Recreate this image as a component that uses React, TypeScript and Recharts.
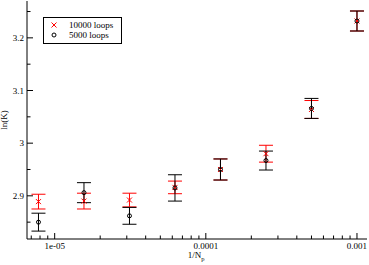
import React from "react";
import {
  ScatterChart,
  Scatter,
  XAxis,
  YAxis,
  ErrorBar,
  Legend,
} from "recharts";

// 1/N_p for N_p = 128000 ... 1000
const invNp = [7.8125e-6, 1.5625e-5, 3.125e-5, 6.25e-5, 1.25e-4, 2.5e-4, 5e-4, 1e-3];

const lnK10000 = [2.889, 2.890, 2.892, 2.916, 2.950, 2.980, 3.064, 3.232];
const err10000 = [0.014, 0.015, 0.013, 0.012, 0.020, 0.016, 0.017, 0.019];

const lnK5000 = [2.850, 2.906, 2.862, 2.915, 2.950, 2.967, 3.066, 3.232];
const err5000 = [0.017, 0.019, 0.016, 0.025, 0.020, 0.018, 0.019, 0.019];

const majorX = [1e-5, 1e-4, 1e-3];
const majorXLabels = ["1e-05", "0.0001", "0.001"];
const minorX = [
  7e-6, 8e-6, 9e-6,
  2e-5, 3e-5, 4e-5, 5e-5, 6e-5, 7e-5, 8e-5, 9e-5,
  2e-4, 3e-4, 4e-4, 5e-4, 6e-4, 7e-4, 8e-4, 9e-4,
];

const majorY = [2.9, 3, 3.1, 3.2];
const majorYLabels = ["2.9", "3", "3.1", "3.2"];
const minorY = [2.85, 2.95, 3.05, 3.15, 3.25];

const FONT = "'Liberation Serif', 'DejaVu Serif', serif";
const MAJOR = 6;
const MINOR = 3.5;

const data10000 = invNp.map((x, i) => ({ x, y: lnK10000[i], err: err10000[i] }));
const data5000 = invNp.map((x, i) => ({ x, y: lnK5000[i], err: err5000[i] }));

const xTicks = [...minorX, ...majorX].sort((a, b) => a - b);
const yTicks = [...minorY, ...majorY].sort((a, b) => a - b);

const BottomTick = (props: any) => {
  const { x, y, payload } = props;
  const idx = majorX.indexOf(payload.value);
  const len = idx >= 0 ? MAJOR : MINOR;
  return (
    <g>
      <line x1={x} x2={x} y1={y} y2={y - len} stroke="#000" />
      {idx >= 0 && (
        <text x={x} y={y + 10} textAnchor="middle" fontSize={9} fontFamily={FONT} fill="#000">
          {majorXLabels[idx]}
        </text>
      )}
    </g>
  );
};

const TopTick = (props: any) => {
  const { x, y, payload } = props;
  const len = majorX.indexOf(payload.value) >= 0 ? MAJOR : MINOR;
  return <line x1={x} x2={x} y1={y} y2={y + len} stroke="#000" />;
};

const LeftTick = (props: any) => {
  const { x, y, payload } = props;
  const idx = majorY.findIndex((v) => Math.abs(v - payload.value) < 1e-9);
  const len = idx >= 0 ? MAJOR : MINOR;
  return (
    <g>
      <line x1={x} x2={x + len} y1={y} y2={y} stroke="#000" />
      {idx >= 0 && (
        <text x={x - 3} y={y + 3} textAnchor="end" fontSize={9} fontFamily={FONT} fill="#000">
          {majorYLabels[idx]}
        </text>
      )}
    </g>
  );
};

const RightTick = (props: any) => {
  const { x, y, payload } = props;
  const len = majorY.some((v) => Math.abs(v - payload.value) < 1e-9) ? MAJOR : MINOR;
  return <line x1={x} x2={x - len} y1={y} y2={y} stroke="#000" />;
};

const Cross = (props: any) => {
  const { cx, cy } = props;
  const s = 2.5;
  return (
    <g stroke="#ff0000" strokeWidth={1}>
      <line x1={cx - s} y1={cy - s} x2={cx + s} y2={cy + s} />
      <line x1={cx - s} y1={cy + s} x2={cx + s} y2={cy - s} />
    </g>
  );
};

const Ring = (props: any) => {
  const { cx, cy } = props;
  return <circle cx={cx} cy={cy} r={2} fill="none" stroke="#000" strokeWidth={1} />;
};

const XLabel = () => (
  <text x={196} y={258} textAnchor="middle" fontSize={9} fontFamily={FONT} fill="#000">
    1/N
    <tspan fontSize={6.5} dy={2.5}>p</tspan>
  </text>
);

const YLabel = () => (
  <text
    x={7}
    y={120}
    textAnchor="middle"
    fontSize={9}
    fontFamily={FONT}
    fill="#000"
    transform="rotate(-90, 7, 120)"
  >
    ln(K)
  </text>
);

const LegendBox = () => (
  <div
    style={{
      width: 79,
      height: 27,
      boxSizing: "border-box",
      border: "1px solid #000",
      background: "#fff",
      position: "relative",
      fontFamily: FONT,
      fontSize: 9,
      color: "#000",
    }}
  >
    {[
      { label: "10000 loops", top: 2, marker: "cross" },
      { label: "5000 loops", top: 12, marker: "ring" },
    ].map((row) => (
      <div
        key={row.label}
        style={{ position: "absolute", left: 0, top: row.top, height: 10, lineHeight: "10px", whiteSpace: "nowrap" }}
      >
        <svg width={20} height={10} style={{ position: "absolute", left: 0, top: 0 }}>
          {row.marker === "cross" ? <Cross cx={10} cy={5} /> : <Ring cx={10} cy={5} />}
        </svg>
        <span style={{ position: "absolute", left: 25, top: 0 }}>{row.label}</span>
      </div>
    ))}
  </div>
);

export default function App() {
  return (
    <div style={{ position: "absolute", left: 0, top: 0 }}>
      <ScatterChart width={369} height={265} margin={{ top: 1, right: 2, bottom: 0, left: 0 }}>
        <XAxis
          xAxisId="b"
          dataKey="x"
          type="number"
          scale="log"
          domain={[6.56e-6, 1.165e-3]}
          allowDataOverflow
          ticks={xTicks}
          interval={0}
          tickSize={0}
          tickMargin={0}
          tick={<BottomTick />}
          tickLine={false}
          axisLine={{ stroke: "#000" }}
          height={26}
          label={<XLabel />}
        />
        <XAxis
          xAxisId="t"
          orientation="top"
          type="number"
          scale="log"
          domain={[6.56e-6, 1.165e-3]}
          allowDataOverflow
          ticks={xTicks}
          interval={0}
          tickSize={0}
          tickMargin={0}
          tick={<TopTick />}
          tickLine={false}
          axisLine={{ stroke: "#000" }}
          height={0}
        />
        <YAxis
          yAxisId="l"
          dataKey="y"
          type="number"
          domain={[2.818, 3.27]}
          allowDataOverflow
          ticks={yTicks}
          interval={0}
          tickSize={0}
          tickMargin={0}
          tick={<LeftTick />}
          tickLine={false}
          axisLine={{ stroke: "#000" }}
          width={27}
          label={<YLabel />}
        />
        <YAxis
          yAxisId="r"
          orientation="right"
          type="number"
          domain={[2.818, 3.27]}
          allowDataOverflow
          ticks={yTicks}
          interval={0}
          tickSize={0}
          tickMargin={0}
          tick={<RightTick />}
          tickLine={false}
          axisLine={{ stroke: "#000" }}
          width={0}
        />
        <Legend
          layout="vertical"
          align="center"
          verticalAlign="middle"
          content={<LegendBox />}
          wrapperStyle={{ left: 43, top: 17, width: 79, height: 27 }}
        />
        <Scatter
          name="10000 loops"
          data={data10000}
          xAxisId="b"
          yAxisId="l"
          shape={<Cross />}
          isAnimationActive={false}
        >
          <ErrorBar dataKey="err" direction="y" width={7} stroke="#ff0000" strokeWidth={1} />
        </Scatter>
        <Scatter
          name="5000 loops"
          data={data5000}
          xAxisId="b"
          yAxisId="l"
          shape={<Ring />}
          isAnimationActive={false}
        >
          <ErrorBar dataKey="err" direction="y" width={7} stroke="#000" strokeWidth={1} />
        </Scatter>
      </ScatterChart>
    </div>
  );
}
